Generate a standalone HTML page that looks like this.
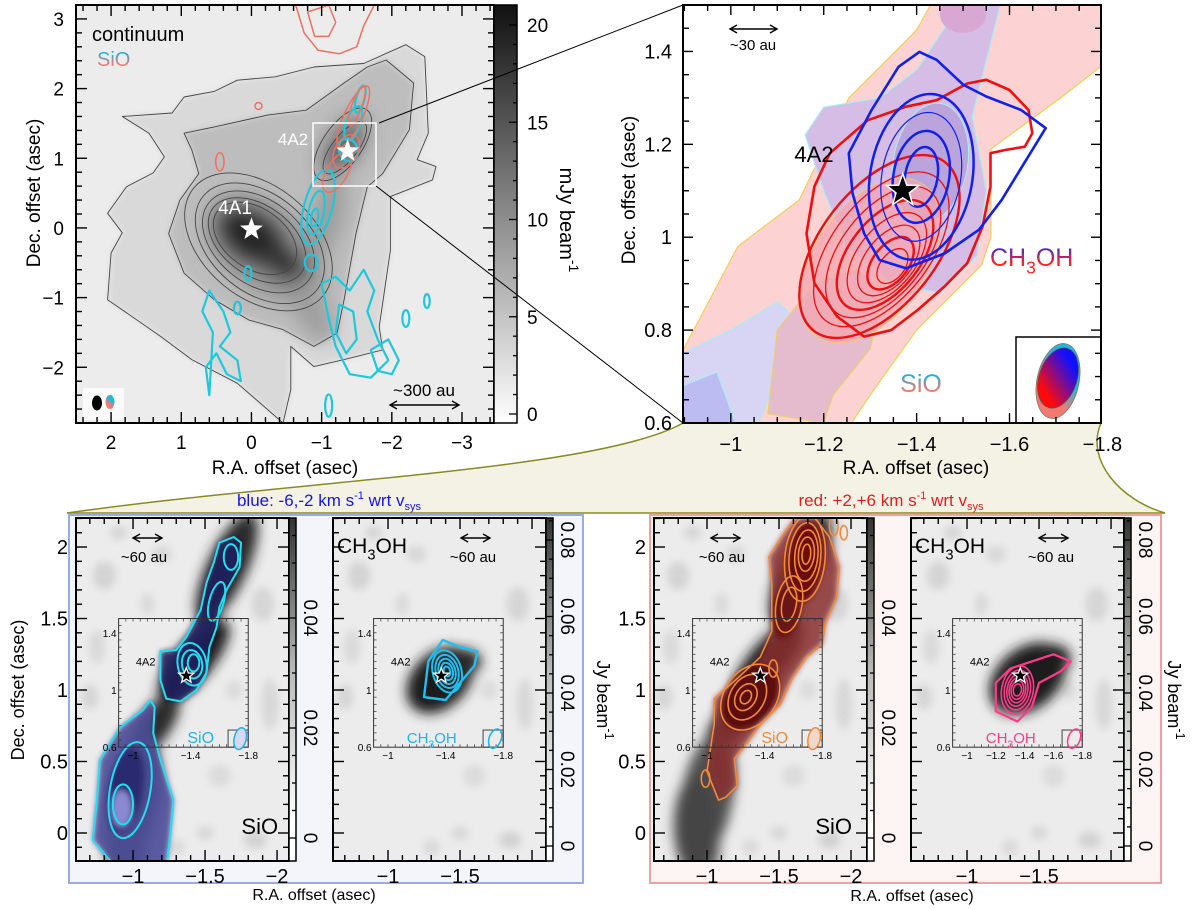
<!DOCTYPE html>
<html><head><meta charset="utf-8"><style>
body{margin:0;background:#fff}
svg{display:block;font-family:"Liberation Sans",sans-serif}
</style></head><body>
<svg id="fig" width="1200" height="909" viewBox="0 0 1200 909" xmlns="http://www.w3.org/2000/svg">
<defs>
<filter id="b10" x="-50%" y="-50%" width="200%" height="200%"><feGaussianBlur stdDeviation="10"/></filter>
<filter id="b6" x="-50%" y="-50%" width="200%" height="200%"><feGaussianBlur stdDeviation="6"/></filter>
<filter id="b4" x="-50%" y="-50%" width="200%" height="200%"><feGaussianBlur stdDeviation="4"/></filter>
<filter id="b3" x="-50%" y="-50%" width="200%" height="200%"><feGaussianBlur stdDeviation="3"/></filter>
<linearGradient id="cbTL" x1="0" y1="1" x2="0" y2="0"><stop offset="0" stop-color="#fff"/><stop offset="0.5" stop-color="#8a8a8a"/><stop offset="1" stop-color="#111"/></linearGradient>
<linearGradient id="cbB" x1="0" y1="1" x2="0" y2="0"><stop offset="0" stop-color="#fff"/><stop offset="0.1" stop-color="#fff"/><stop offset="0.55" stop-color="#bbb"/><stop offset="1" stop-color="#333"/></linearGradient>
<linearGradient id="gBR" x1="0" y1="0" x2="0" y2="1"><stop offset="0" stop-color="#1030ff"/><stop offset="0.55" stop-color="#ff2020"/></linearGradient>
<linearGradient id="gSiO" x1="0" y1="0" x2="0" y2="1"><stop offset="0.2" stop-color="#22b0d8"/><stop offset="0.7" stop-color="#f07a70"/></linearGradient>
<linearGradient id="gBeam" x1="0.7" y1="0.1" x2="0.3" y2="0.9"><stop offset="0.1" stop-color="#1010ff"/><stop offset="0.9" stop-color="#ff0a0a"/></linearGradient>
<linearGradient id="gBeam2" x1="0.7" y1="0.1" x2="0.3" y2="0.9"><stop offset="0.3" stop-color="#20b8e0"/><stop offset="0.7" stop-color="#f07a70"/></linearGradient>
<clipPath id="c-tl"><rect x="76" y="5" width="418" height="418"/></clipPath>
<clipPath id="c-tr"><rect x="683" y="5" width="418" height="418"/></clipPath>
<clipPath id="c-a1"><rect x="76" y="518" width="213" height="343"/></clipPath>
<clipPath id="c-a2"><rect x="333" y="518" width="213" height="343"/></clipPath>
<clipPath id="c-b1"><rect x="654" y="518" width="213" height="343"/></clipPath>
<clipPath id="c-b2"><rect x="911" y="518" width="213" height="343"/></clipPath>
</defs>
<path d="M67,513 C300,480 600,470 683,423 L1101,423 C1085,460 1120,500 1165,513 Z" fill="#f4f2e4"/>
<path d="M67,513 C300,480 600,470 683,423" fill="none" stroke="#8a8a20" stroke-width="1.5"/>
<path d="M1101,423 C1085,460 1120,500 1165,513" fill="none" stroke="#8a8a20" stroke-width="1.5"/>
<line x1="67" y1="513" x2="1165" y2="513" stroke="#8a8a20" stroke-width="1.5"/>
<rect x="69" y="515" width="514" height="368" fill="#f4f4fb" stroke="#9aaae8" stroke-width="2"/>
<rect x="650" y="515" width="511" height="368" fill="#fdf4f4" stroke="#f0a0a0" stroke-width="2"/>
<text x="329" y="506" text-anchor="middle" font-size="17" fill="#1515e8">blue: -6,-2 km s<tspan dy="-7" font-size="11">-1</tspan><tspan dy="7"> wrt v</tspan><tspan dy="4" font-size="11">sys</tspan></text>
<text x="891" y="506" text-anchor="middle" font-size="17" fill="#e81c1c">red: +2,+6 km s<tspan dy="-7" font-size="11">-1</tspan><tspan dy="7"> wrt v</tspan><tspan dy="4" font-size="11">sys</tspan></text>
<g id="root"></g>
</svg>
<script>
// ---------- data arrays ----------
const tlXTicks=[2,1,0,-1,-2,-3];
const tlYTicks=[3,2,1,0,-1,-2];
const tlCbTicks=[0,5,10,15,20];
const trXTicks=[-1,-1.2,-1.4,-1.6,-1.8];
const trYTicks=[1.4,1.2,1,0.8,0.6];
const botXTicksL=[-1,-1.5,-2];
const botXTicksR=[-1,-1.5];
const botYTicks=[2,1.5,1,0.5,0];
const cbSiOTicks=[0,0.02,0.04];
const cbCHTicks=[0,0.02,0.04,0.06,0.08];
const insetYTicks=[1.4,1,0.6];
const insetXTicks=[-1,-1.4,-1.8];
const insetXTicksB2=[-1,-1.2,-1.4,-1.6,-1.8];
// continuum contours (RA,Dec in asec)
const contOuter=[[1.84,1.60],[1.13,1.65],[0.96,1.88],[0.53,1.96],[0.20,2.12],[-0.34,2.17],[-0.89,2.31],[-1.60,2.36],[-2.20,2.63],[-2.47,2.46],[-2.52,1.36],[-2.36,0.98],[-2.63,0.88],[-2.58,0.69],[-1.98,0.45],[-1.98,-0.32],[-1.82,-1.42],[-1.87,-1.75],[-1.32,-1.89],[-0.89,-1.99],[-0.56,-1.70],[-0.56,-2.32],[-0.45,-2.80],[0.20,-2.23],[0.85,-1.89],[1.29,-1.56],[2.05,-1.03],[2.0,-0.36],[1.84,-0.07],[2.05,0.21],[1.78,0.59],[1.40,0.79],[1.24,1.02],[1.46,1.36]];
const contSecond=[[0.96,1.36],[0.53,1.45],[-0.23,1.62],[-0.78,1.69],[-1.32,2.08],[-1.65,2.31],[-1.92,2.41],[-2.31,2.08],[-2.25,1.41],[-1.87,0.78],[-1.65,0.59],[-1.49,-0.08],[-1.32,-1.03],[-1.22,-1.51],[-0.89,-1.70],[-0.45,-1.46],[0.04,-1.32],[0.53,-1.03],[0.96,-0.65],[1.18,-0.08],[1.02,0.40],[0.75,0.78],[0.85,1.12]];
// blobs: ra, dec, rx, ry, rot, gray
const contBlobs=[[-0.2,-0.3,1.0,0.62,40,'#9a9a9a'],[-1.3,1.2,0.5,0.22,-55,'#7a7a7a'],[-1.1,0.2,0.6,0.2,-78,'#9a9a9a'],[-0.8,-1.1,0.6,0.22,60,'#9c9c9c'],[0.0,-0.12,0.58,0.4,35,'#262626'],[-0.45,-0.5,0.38,0.26,30,'#303030'],[-1.35,1.12,0.28,0.1,-50,'#2a2a2a']];
const contRings=[[-0.1,-0.2,1.2,0.8,40],[-0.12,-0.22,1.05,0.7,40],[-0.1,-0.2,0.9,0.6,38],[-0.08,-0.18,0.78,0.5,36],[-0.05,-0.15,0.66,0.43,35],[-1.3,1.2,0.6,0.28,-55],[-1.33,1.15,0.45,0.18,-52]];
const sioCyanTL=[[[-1.0,-0.8],[-1.2,-0.7],[-1.4,-0.9],[-1.6,-0.6],[-1.75,-0.9],[-1.65,-1.2],[-1.8,-1.6],[-1.95,-1.9],[-1.7,-2.15],[-1.4,-2.1],[-1.2,-1.7],[-1.1,-1.3]],[[-1.25,-1.1],[-1.45,-1.2],[-1.5,-1.6],[-1.35,-1.8],[-1.2,-1.5]],[[0.6,-0.9],[0.4,-1.2],[0.3,-1.5],[0.45,-1.7],[0.2,-1.9],[0.15,-2.2],[0.35,-2.1],[0.5,-1.8],[0.65,-2.0],[0.6,-2.4],[0.55,-1.5],[0.7,-1.2]],[[-1.7,-1.75],[-1.95,-1.6],[-2.1,-1.9],[-2.0,-2.1],[-1.8,-2.05]]];
const sioCyanEll=[[-1.38,1.12,0.13,0.17,-20],[-1.45,1.5,0.1,0.26,20],[-1.55,1.85,0.06,0.2,15],[-0.95,0.3,0.2,0.55,15],[-0.92,0.22,0.11,0.32,12],[-0.9,0.15,0.05,0.13,10],[-0.85,-0.5,0.09,0.12,0],[0.2,-1.15,0.05,0.09,0],[-1.1,-2.55,0.05,0.16,0],[0.05,-0.65,0.05,0.1,0],[-2.2,-1.3,0.05,0.12,0],[-2.5,-1.05,0.04,0.1,0]];
const sioRedTL=[[[-0.6,3.3],[-0.75,2.8],[-0.95,2.55],[-1.25,2.5],[-1.5,2.6],[-1.6,2.9],[-1.8,3.3]],[[-0.8,3.1],[-0.9,2.75],[-1.1,2.75],[-1.2,2.95],[-1.1,3.2]]];
const sioRedEll=[[-1.45,1.6,0.13,0.48,25],[-1.5,1.75,0.07,0.3,20],[-1.35,1.1,0.16,0.26,30],[-1.22,0.8,0.15,0.32,30],[0.45,0.95,0.06,0.13,0],[-0.1,1.75,0.05,0.05,0]];
// top-right contour fills
const trPink=[[-0.897,0.6],[-0.897,0.757],[-1.015,0.98],[-1.147,1.08],[-1.254,1.30],[-1.40,1.446],[-1.43,1.5],[-1.8,1.5],[-1.8,1.37],[-1.71,1.30],[-1.56,1.19],[-1.56,1.0],[-1.54,0.94],[-1.40,0.80],[-1.30,0.66],[-1.26,0.6]];
const trLav1=[[-0.897,0.6],[-0.897,0.75],[-1.0,0.8],[-1.1,0.86],[-1.17,0.8],[-1.1,0.7],[-1.06,0.6]];
const trLav2=[[-0.897,0.6],[-0.897,0.68],[-0.97,0.71],[-1.01,0.6]];
const trPurple=[[-1.16,1.22],[-1.2,1.28],[-1.32,1.30],[-1.40,1.36],[-1.46,1.45],[-1.47,1.5],[-1.58,1.5],[-1.55,1.38],[-1.52,1.26],[-1.55,1.1],[-1.53,0.96],[-1.45,0.88],[-1.35,0.9],[-1.25,0.98],[-1.2,1.1]];
const trMauve=[[-1.08,0.62],[-1.1,0.8],[-1.18,0.9],[-1.27,0.93],[-1.33,0.88],[-1.3,0.76],[-1.22,0.66],[-1.2,0.6]];
const trRedOuter=[[-1.287,0.786],[-1.345,0.800],[-1.402,0.843],[-1.460,0.894],[-1.509,0.944],[-1.542,1.023],[-1.559,1.109],[-1.559,1.181],[-1.592,1.188],[-1.633,1.195],[-1.649,1.224],[-1.641,1.274],[-1.600,1.317],[-1.550,1.339],[-1.509,1.331],[-1.443,1.295],[-1.377,1.281],[-1.295,1.252],[-1.213,1.181],[-1.180,1.109],[-1.163,1.008],[-1.180,0.901],[-1.229,0.829]];
const trBlueOuter=[[-1.406,1.399],[-1.443,1.382],[-1.501,1.328],[-1.550,1.303],[-1.625,1.274],[-1.678,1.235],[-1.649,1.188],[-1.583,1.080],[-1.534,1.016],[-1.460,0.965],[-1.377,0.933],[-1.320,0.951],[-1.287,1.008],[-1.262,1.095],[-1.254,1.181],[-1.303,1.274],[-1.361,1.367]];
const trRedRx=[0.125,0.105,0.09,0.076,0.063,0.05,0.038,0.026];
const trRedRy=[0.23,0.195,0.165,0.138,0.113,0.088,0.065,0.043];
const trBlueRx=[0.11,0.085,0.06,0.035];
const trBlueRy=[0.18,0.14,0.1,0.065];
// bottom panels
const bgPatches=[[-0.8,1.8,0.08,0.1,'#d4d4d4'],[-1.2,1.95,0.07,0.06,'#d8d8d8'],[-1.9,1.6,0.08,0.12,'#d6d6d6'],[-0.75,1.3,0.06,0.12,'#dadada'],[-1.95,0.9,0.06,0.18,'#d8d8d8'],[-1.6,0.4,0.08,0.08,'#dcdcdc'],[-1.85,-0.05,0.08,0.06,'#d2d2d2'],[-1.3,-0.1,0.06,0.06,'#dadada'],[-0.7,0.95,0.06,0.09,'#d6d6d6'],[-1.7,1.0,0.06,0.07,'#dcdcdc'],[-0.9,2.1,0.06,0.05,'#d6d6d6'],[-1.1,1.6,0.05,0.08,'#dadada'],[-1.5,0.0,0.06,0.05,'#d8d8d8']];
const sioBand=[[-1.65,1.85,0.14,0.42,25,'#2a2a2a'],[-1.42,1.2,0.13,0.36,40,'#1e1e1e'],[-1.15,0.75,0.11,0.26,35,'#2a2a2a'],[-1.0,0.25,0.18,0.45,10,'#505050'],[-0.95,-0.1,0.14,0.2,0,'#5a5a5a']];
const a1NorthC=[[-1.19,1.27],[-1.30,1.28],[-1.37,1.37],[-1.47,1.56],[-1.51,1.75],[-1.56,1.89],[-1.60,2.03],[-1.70,2.07],[-1.75,2.03],[-1.74,1.86],[-1.65,1.70],[-1.60,1.58],[-1.58,1.44],[-1.53,1.30],[-1.51,1.12],[-1.44,1.00],[-1.33,0.92],[-1.23,0.94],[-1.19,1.07]];
const a1SouthC=[[-1.12,0.93],[-1.15,0.88],[-1.14,0.70],[-1.19,0.51],[-1.28,0.23],[-1.26,0.0],[-1.23,-0.25],[-0.89,-0.25],[-0.72,-0.05],[-0.75,0.23],[-0.77,0.51],[-0.91,0.74],[-1.07,0.86]];
const a1Inner=[[-0.98,0.3,0.14,0.34,10],[-0.93,0.2,0.07,0.14,0],[-1.41,1.18,0.1,0.15,-10],[-1.41,1.18,0.07,0.1,-10],[-1.42,1.19,0.04,0.06,0],[-1.68,1.93,0.05,0.09,0],[-1.58,1.62,0.05,0.14,15]];
const chBlueOuter=[[-1.25,0.95],[-1.28,1.2],[-1.38,1.35],[-1.5,1.3],[-1.62,1.27],[-1.6,1.17],[-1.5,1.05],[-1.4,0.93]];
const chBlueRx=[0.1,0.078,0.058,0.04,0.022];
const chBlueRy=[0.15,0.118,0.09,0.062,0.035];
const b1Outer=[[-1.08,0.23],[-1.0,0.43],[-1.05,0.76],[-1.05,0.94],[-1.21,1.08],[-1.37,1.23],[-1.45,1.41],[-1.45,1.74],[-1.43,1.93],[-1.53,2.09],[-1.61,2.2],[-1.75,2.2],[-1.85,2.07],[-1.92,1.86],[-1.90,1.65],[-1.82,1.46],[-1.80,1.32],[-1.69,1.23],[-1.59,1.08],[-1.51,0.90],[-1.37,0.76],[-1.27,0.62],[-1.19,0.52],[-1.21,0.33],[-1.13,0.25]];
const b1Inner=[[-1.68,1.92,0.14,0.3,5],[-1.68,1.93,0.11,0.24,5],[-1.69,1.94,0.08,0.18,5],[-1.69,1.95,0.055,0.12,5],[-1.69,1.95,0.03,0.07,5],[-1.57,1.6,0.09,0.2,10],[-1.57,1.6,0.05,0.12,10],[-1.3,0.95,0.18,0.25,35],[-1.28,0.95,0.12,0.17,30],[-1.27,0.95,0.07,0.1,30],[-1.27,0.95,0.035,0.05,30],[-0.99,0.38,0.03,0.06,0],[-1.46,1.15,0.03,0.06,0],[-1.88,2.15,0.03,0.07,0]];
const chRedOuter=[[-1.2,0.85],[-1.2,1.05],[-1.3,1.15],[-1.45,1.2],[-1.6,1.25],[-1.72,1.2],[-1.65,1.13],[-1.5,1.05],[-1.45,0.88],[-1.35,0.78]];
const chRedRx=[0.11,0.09,0.072,0.057,0.043,0.028];
const chRedRy=[0.17,0.14,0.114,0.09,0.066,0.042];

// ---------- helpers ----------
const NS='http://www.w3.org/2000/svg';
const root=document.getElementById('root');
function mk(tag,attrs,parent){const e=document.createElementNS(NS,tag);for(const k in attrs)e.setAttribute(k,attrs[k]);(parent||root).appendChild(e);return e;}
function panel(x0,x1,y0,y1,ra0,ra1,d0,d1,clip){
  const p={x0,x1,y0,y1};
  p.X=ra=>x0+(ra-ra0)/(ra1-ra0)*(x1-x0);
  p.Y=d=>y0+(d-d0)/(d1-d0)*(y1-y0);
  p.sx=Math.abs((x1-x0)/(ra1-ra0));p.sy=Math.abs((y1-y0)/(d1-d0));
  p.g=mk('g',{'clip-path':'url(#'+clip+')'});
  
  
  return p;
}
function ell(p,ra,dec,rx,ry,rot,attrs,parent){
  const cx=p.X(ra),cy=p.Y(dec);
  return mk('ellipse',Object.assign({cx:cx,cy:cy,rx:rx*p.sx,ry:ry*p.sy,transform:'rotate('+rot+' '+cx+' '+cy+')'},attrs),parent||p.g);
}
function poly(p,pts,attrs,parent){
  const d='M'+pts.map(q=>p.X(q[0]).toFixed(1)+','+p.Y(q[1]).toFixed(1)).join('L')+'Z';
  return mk('path',Object.assign({d:d,'stroke-linejoin':'round'},attrs),parent||p.g);
}
function starPath(cx,cy,R,r){let d='';for(let i=0;i<10;i++){const a=-Math.PI/2+i*Math.PI/5;const rr=i%2?r:R;d+=(i?'L':'M')+(cx+rr*Math.cos(a)).toFixed(1)+','+(cy+rr*Math.sin(a)).toFixed(1);}return d+'Z';}
function frame(p,name){
  const r=mk('rect',{x:p.x0,y:p.y0,width:p.x1-p.x0,height:p.y1-p.y0,fill:'none',stroke:'#000','stroke-width':2});
  
  
}
function ticks(p,name,xs,ys,xmin,xmax,xstep,ymin,ymax,ystep,L,l,col,w){
  const g=mk('g',{stroke:col||'#000','stroke-width':w||1.4});
  
  
  const n1=Math.round((xmax-xmin)/xstep);
  for(let i=0;i<=n1;i++){const v=xmin+i*xstep;const maj=xs.some(t=>Math.abs(t-v)<1e-6);const len=maj?L:l;const x=p.X(v);if(x<p.x0-0.5||x>p.x1+0.5)continue;
    mk('line',{x1:x,y1:p.y1,x2:x,y2:p.y1-len},g);mk('line',{x1:x,y1:p.y0,x2:x,y2:p.y0+len},g);}
  const n2=Math.round((ymax-ymin)/ystep);
  for(let i=0;i<=n2;i++){const v=ymin+i*ystep;const maj=ys.some(t=>Math.abs(t-v)<1e-6);const len=maj?L:l;const y=p.Y(v);if(y<p.y0-0.5||y>p.y1+0.5)continue;
    mk('line',{x1:p.x0,y1:y,x2:p.x0+len,y2:y},g);mk('line',{x1:p.x1,y1:y,x2:p.x1-len,y2:y},g);}
}
function fmt(v){return (v<0?'\u2212':'')+String(Math.abs(v));}
function xlabels(p,name,arr,y,fs){
  arr.forEach(v=>{const t=mk('text',{x:p.X(v),y:y,'text-anchor':'middle','font-size':fs});t.textContent=fmt(v);
    
    });
}
function ylabels(p,name,arr,x,fs,dy){
  arr.forEach(v=>{const t=mk('text',{x:x,y:p.Y(v)+(dy||6),'text-anchor':'end','font-size':fs});t.textContent=fmt(v);
    
    });
}
function label(txt,x,y,fs,rot,name,extra){
  const t=mk('text',Object.assign({x:x,y:y,'font-size':fs,'text-anchor':'middle'},extra||{}));
  if(rot)t.setAttribute('transform','rotate('+rot+' '+x+' '+y+')');
  t.textContent=txt;
  
  
  return t;
}
function subLabel(a,sub,b,x,y,fs,name,extra){
  const t=mk('text',Object.assign({x:x,y:y,'font-size':fs},extra||{}));
  const s1=mk('tspan',{},t);s1.textContent=a;
  const s2=mk('tspan',{dy:fs*0.3,'font-size':fs*0.7},t);s2.textContent=sub;
  const s3=mk('tspan',{dy:-fs*0.3},t);s3.textContent=b;
  
  
  return t;
}
function rotSupLabel(txt,x,y,fs,name){
  const t=mk('text',{x:x,y:y,'font-size':fs,'text-anchor':'middle',transform:'rotate(90 '+x+' '+y+')'});
  const a=mk('tspan',{},t);a.textContent=txt;
  const b=mk('tspan',{dy:-fs*0.45,'font-size':fs*0.7},t);b.textContent='-1';
  
  
}
function colorbar(x0,x1,y0,y1,v0y,vs,ticksArr,grad,name,lx,fs,step){
  const r=mk('rect',{x:x0,y:y0,width:x1-x0,height:y1-y0,fill:'url(#'+grad+')',stroke:'#000','stroke-width':1.5});
  
  
  const Yc=v=>v0y-v*vs;
  const g=mk('g',{stroke:'#000','stroke-width':1.3});
  
  
  const vmax=(v0y-y0)/vs;
  for(let i=0;i*step<=vmax;i++){const v=i*step;const maj=ticksArr.some(t=>Math.abs(t-v)<1e-9);mk('line',{x1:x1,y1:Yc(v),x2:x1-(maj?8:4),y2:Yc(v)},g);}
  ticksArr.forEach(v=>{
    let t;
    if(lx.rot){t=mk('text',{x:lx.x,y:Yc(v),'font-size':fs,'text-anchor':'middle',transform:'rotate(90 '+lx.x+' '+Yc(v)+')'});}
    else{t=mk('text',{x:lx.x,y:Yc(v)+7,'font-size':fs,'text-anchor':'start'});}
    t.textContent=String(v);
    
    
  });
}
function arrow(x1,x2,y,name){
  const g=mk('g',{stroke:'#000','stroke-width':1.4,fill:'none'});
  
  
  mk('line',{x1:x1,y1:y,x2:x2,y2:y},g);
  mk('path',{d:`M${x1+7},${y-4}L${x1},${y}L${x1+7},${y+4}M${x2-7},${y-4}L${x2},${y}L${x2-7},${y+4}`},g);
}
function bottomBg(p){
  mk('rect',{x:p.x0,y:p.y0,width:p.x1-p.x0,height:p.y1-p.y0,fill:'#ececec'},p.g);
  const bl=mk('g',{filter:'url(#b4)'},p.g);
  bgPatches.forEach(b=>{ell(p,b[0],b[1],b[2],b[3],0,{fill:b[4]},bl);});
}
function inset(p,name,xt){
  const g=mk('g',{});
  
  
  const x0=p.X(-0.9),x1=p.X(-1.8),y0=p.Y(1.5),y1=p.Y(0.6);
  mk('rect',{x:x0,y:y0,width:x1-x0,height:y1-y0,fill:'none',stroke:'#333','stroke-width':1},g);
  for(let v=0.65;v<1.5;v+=0.05){const y=p.Y(v);mk('line',{x1:x0,y1:y,x2:x0+3,y2:y,stroke:'#333','stroke-width':0.7},g);mk('line',{x1:x1,y1:y,x2:x1-3,y2:y,stroke:'#333','stroke-width':0.7},g);}
  for(let v=-0.95;v>-1.8;v-=0.05){const x=p.X(v);mk('line',{x1:x,y1:y1,x2:x,y2:y1-3,stroke:'#333','stroke-width':0.7},g);mk('line',{x1:x,y1:y0,x2:x,y2:y0+3,stroke:'#333','stroke-width':0.7},g);}
  insetYTicks.forEach(v=>{const t=mk('text',{x:x0-2,y:p.Y(v)+4,'font-size':10,'text-anchor':'end'},g);t.textContent=String(v);
    
    });
  xt.forEach(v=>{const t=mk('text',{x:p.X(v),y:y1+12,'font-size':10,'text-anchor':'middle'},g);t.textContent=fmt(v);
    
    });
  const lb=mk('text',{x:p.X(-1.02),y:p.Y(1.2)+4,'font-size':11},g);lb.textContent='4A2';
  
  
  const bx=p.X(-1.66),by=p.Y(0.72);
  const br=mk('rect',{x:bx,y:by,width:x1-bx,height:y1-by,fill:'none',stroke:'#444','stroke-width':1},g);
  
  
  return {g,bx:(bx+x1)/2,by:(by+y1)/2};
}
function smallStar(p,name){
  const s=mk('path',{d:starPath(p.X(-1.37),p.Y(1.10),8,3.4),fill:'#000',stroke:'#fff','stroke-width':1.3});
  
  
}

// ---------- TOP-LEFT ----------
const TL=panel(76,494,5,423,2.5,-3.456,3.2,-2.8,'c-tl');
mk('rect',{x:76,y:5,width:418,height:418,fill:'#ececec'},TL.g);
const tlImg=mk('g',{filter:'url(#b3)'},TL.g);


poly(TL,contOuter,{fill:'#d9d9d9'},tlImg);
poly(TL,contSecond,{fill:'#bdbdbd'},tlImg);
const tlBlur=mk('g',{filter:'url(#b10)'},TL.g);
contBlobs.forEach(b=>{ell(TL,b[0],b[1],b[2],b[3],b[4],{fill:b[5]},tlBlur);});
const tlCont=mk('g',{fill:'none',stroke:'#444','stroke-width':0.9},TL.g);


poly(TL,contOuter,{},tlCont);
poly(TL,contSecond,{},tlCont);
contRings.forEach(c=>{ell(TL,c[0],c[1],c[2],c[3],c[4],{},tlCont);});
const tlCy=mk('g',{fill:'none',stroke:'#1ec8dc','stroke-width':2.2},TL.g);


sioCyanTL.forEach(pt=>poly(TL,pt,{},tlCy));
sioCyanEll.forEach(c=>ell(TL,c[0],c[1],c[2],c[3],c[4],{},tlCy));
const tlRd=mk('g',{fill:'none',stroke:'#f07060','stroke-width':1.5},TL.g);


sioRedTL.forEach(pt=>poly(TL,pt,{},tlRd));
sioRedEll.forEach(c=>ell(TL,c[0],c[1],c[2],c[3],c[4],{},tlRd));
const zbox=mk('rect',{x:313,y:123,width:63,height:63,fill:'none',stroke:'#fff','stroke-width':1.5});


const s1=mk('path',{d:starPath(TL.X(0.0),TL.Y(-0.02),12,5),fill:'#fff'});


const s2=mk('path',{d:starPath(TL.X(-1.37),TL.Y(1.1),12,5),fill:'#fff'});


label('4A1',235,214,19,0,'label-4a1',{fill:'#fff'});
label('4A2',293,145,17,0,'label-4a2',{fill:'#fff'});
label('continuum',92,41,20,0,'legend-continuum',{'text-anchor':'start'});
label('SiO',97,66,20,0,'legend-sio',{'text-anchor':'start',fill:'url(#gSiO)'});
const bb=mk('rect',{x:83,y:388,width:41,height:32,fill:'#fafafa'});


const be1=mk('ellipse',{cx:97,cy:403,rx:5,ry:7.5,fill:'#000'});


const be2=mk('ellipse',{cx:110,cy:402,rx:4.5,ry:7,fill:'url(#gBeam2)'});


arrow(390,459,405,'scale-bar-300au');
label('~300 au',424,396,17,0,'scale-label-300au');
frame(TL,'tl');
ticks(TL,'tl',tlXTicks,tlYTicks,-3.4,2.4,0.2,-2.8,3.2,0.2,11,6);
xlabels(TL,'tl',tlXTicks,449,19);
ylabels(TL,'tl',tlYTicks,64,19,7);
label('R.A. offset (asec)',285,474,19,0,'tl-x-axis-title');
label('Dec. offset (asec)',40,193,19,-90,'tl-y-axis-title');
colorbar(494,517,5,423,414,19.45,tlCbTicks,'cbTL','tl-colorbar',{x:527},19,1);
rotSupLabel('mJy beam',560,220,20,'tl-colorbar-title');
const zl1=mk('line',{x1:379,y1:123,x2:683,y2:5,stroke:'#000','stroke-width':1});


const zl2=mk('line',{x1:376,y1:186,x2:683,y2:423,stroke:'#000','stroke-width':1});



// ---------- TOP-RIGHT ----------
const TR=panel(683,1101,5,423,-0.897,-1.797,1.5,0.6,'c-tr');
mk('rect',{x:683,y:5,width:418,height:418,fill:'#fff'},TR.g);
const trF=mk('g',{},TR.g);


poly(TR,trPink,{fill:'#fcd2d2',stroke:'#f5cf50','stroke-width':1.2},trF);
poly(TR,trLav1,{fill:'#d8d4f4',stroke:'#a8eef0','stroke-width':1.2},trF);
poly(TR,trLav2,{fill:'#bcbcf2',stroke:'#a8eef0','stroke-width':1.2},trF);
poly(TR,trMauve,{fill:'#e4bccd',stroke:'#e8cf70','stroke-width':1.2},trF);
poly(TR,trPurple,{fill:'#d6bde6',stroke:'#a8eef0','stroke-width':1.2},trF);
ell(TR,-1.43,1.16,0.08,0.13,10,{fill:'#bba4dc',stroke:'#a8eef0','stroke-width':1},trF);
ell(TR,-1.5,1.48,0.05,0.04,0,{fill:'#d8a8d2'},trF);
ell(TR,-1.3,0.95,0.12,0.2,35,{fill:'#f5a6b0',opacity:0.75,stroke:'#f5d060','stroke-width':1},trF);
const trR=mk('g',{fill:'none',stroke:'#ee1010'},TR.g);


poly(TR,trRedOuter,{'stroke-width':2.6},trR);
trRedRx.forEach((rx,i)=>{ell(TR,-1.32-0.004*i,0.98-0.006*i,rx,trRedRy[i],38,{'stroke-width':i%3==0?2.4:1.3},trR);});
const trB=mk('g',{fill:'none',stroke:'#1020ee'},TR.g);


poly(TR,trBlueOuter,{'stroke-width':2.6},trB);
trBlueRx.forEach((rx,i)=>{ell(TR,-1.41,1.13,rx,trBlueRy[i],10,{'stroke-width':i==1?1.2:2.5},trB);});
const ts=mk('path',{d:starPath(TR.X(-1.37),TR.Y(1.10),17,7),fill:'#000',stroke:'#fff','stroke-width':1.5});


label('4A2',814,162,22,0,'tr-label-4a2');
subLabel('CH','3','OH',990,266,25,'tr-label-ch3oh',{fill:'url(#gBR)'});
label('SiO',921,392,25,0,'tr-label-sio',{fill:'url(#gSiO)'});
arrow(730,777,29,'scale-bar-30au');
label('~30 au',753,50,15,0,'scale-label-30au');
const tb=mk('rect',{x:1016,y:337,width:85,height:86,fill:'#fff',stroke:'#000','stroke-width':1.5});


const tb1=mk('ellipse',{cx:1058,cy:381,rx:21,ry:38,fill:'url(#gBeam2)',stroke:'#777','stroke-width':0.8,transform:'rotate(12 1058 381)'});


const tb2=mk('ellipse',{cx:1058,cy:378,rx:19,ry:31,fill:'url(#gBeam)',stroke:'#555','stroke-width':0.8,transform:'rotate(18 1058 378)'});


frame(TR,'tr');
ticks(TR,'tr',trXTicks,trYTicks,-1.8,-0.9,0.05,0.6,1.5,0.05,10,6);
xlabels(TR,'tr',trXTicks,451,20);
ylabels(TR,'tr',trYTicks,672,20,7);
label('R.A. offset (asec)',916,474,19,0,'tr-x-axis-title');
label('Dec. offset (asec)',635,190,19,-90,'tr-y-axis-title');

// ---------- BOTTOM ----------
function bottomPanel(x0,ra0,clip){return panel(x0,x0+213,518,861,ra0,ra0-1.479,2.203,-0.196,clip);}
const A1=bottomPanel(76,-0.604,'c-a1'), A2=bottomPanel(333,-0.618,'c-a2'), B1=bottomPanel(654,-0.632,'c-b1'), B2=bottomPanel(911,-0.611,'c-b2');
[A1,A2,B1,B2].forEach(bottomBg);
// A1
{const bl=mk('g',{filter:'url(#b6)'},A1.g);sioBand.forEach(b=>ell(A1,b[0],b[1],b[2],b[3],b[4],{fill:b[5]},bl));
 const f=mk('g',{filter:'url(#b3)'},A1.g);
 poly(A1,a1NorthC,{fill:'#20205e',opacity:0.9},f);poly(A1,a1SouthC,{fill:'#4a4a98',opacity:0.9},f);
 ell(A1,-0.95,0.3,0.12,0.3,10,{fill:'#2a2a70'},f);ell(A1,-0.92,0.17,0.07,0.13,0,{fill:'#8a8ad2'},f);
 const c=mk('g',{fill:'none',stroke:'#1ee0f0','stroke-width':2},A1.g);
 
 
 poly(A1,a1NorthC,{},c);poly(A1,a1SouthC,{},c);a1Inner.forEach(e=>ell(A1,e[0],e[1],e[2],e[3],e[4],{},c));
 const ins=inset(A1,'a1',insetXTicks);
 const be=mk('ellipse',{cx:ins.bx+2,cy:ins.by,rx:6,ry:11,fill:'#d8d8f4',stroke:'#1eb0f0','stroke-width':1.5,transform:`rotate(12 ${ins.bx+2} ${ins.by})`});
 
 
 label('SiO',A1.X(-1.47),A1.Y(0.67)+6,16,0,'a1-inset-species',{fill:'#1eb4f0'});
 smallStar(A1,'a1');
 label('SiO',A1.X(-1.88),A1.Y(0.05)+8,22,0,'a1-species-label');}
// A2
{const bl=mk('g',{filter:'url(#b6)'},A2.g);ell(A2,-1.36,1.07,0.19,0.27,45,{fill:'#1c1c1c'},bl);ell(A2,-1.52,1.2,0.13,0.09,0,{fill:'#262626'},bl);
 const c=mk('g',{fill:'none',stroke:'#1ec0f0','stroke-width':2},A2.g);
 
 
 poly(A2,chBlueOuter,{'stroke-width':2.4},c);chBlueRx.forEach((rx,i)=>ell(A2,-1.41,1.13,rx,chBlueRy[i],-15,{},c));
 const ins=inset(A2,'a2',insetXTicks);
 const be=mk('ellipse',{cx:ins.bx+2,cy:ins.by,rx:6,ry:10,fill:'none',stroke:'#1eb0f0','stroke-width':1.5,transform:`rotate(20 ${ins.bx+2} ${ins.by})`});
 
 
 subLabel('CH','3','OH',A2.X(-1.13),A2.Y(0.67)+6,15,'a2-inset-species',{fill:'#1eb4f0'});
 smallStar(A2,'a2');}
// B1
{const bl=mk('g',{filter:'url(#b6)'},B1.g);sioBand.forEach(b=>ell(B1,b[0],b[1],b[2],b[3],b[4],{fill:b[5]},bl));
 ell(B1,-0.92,0.05,0.15,0.35,0,{fill:'#444'},bl);
 const f=mk('g',{filter:'url(#b3)'},B1.g);
 poly(B1,b1Outer,{fill:'#8a3030',opacity:0.85},f);
 ell(B1,-1.68,1.9,0.12,0.28,5,{fill:'#6a0f0f'},f);ell(B1,-1.3,0.95,0.17,0.25,35,{fill:'#5c0c0c'},f);ell(B1,-1.55,1.55,0.1,0.2,10,{fill:'#6a1212'},f);
 const c=mk('g',{fill:'none',stroke:'#f28a38','stroke-width':1.6},B1.g);
 
 
 poly(B1,b1Outer,{},c);b1Inner.forEach(e=>ell(B1,e[0],e[1],e[2],e[3],e[4],{},c));
 ell(B1,-1.95,2.1,0.025,0.05,0,{},c);
 const ins=inset(B1,'b1',insetXTicks);
 const be=mk('ellipse',{cx:ins.bx+2,cy:ins.by,rx:6,ry:11,fill:'#f2d8cc',stroke:'#f28a38','stroke-width':1.5,transform:`rotate(12 ${ins.bx+2} ${ins.by})`});
 
 
 label('SiO',B1.X(-1.47),B1.Y(0.67)+6,16,0,'b1-inset-species',{fill:'#f28a38'});
 smallStar(B1,'b1');
 label('SiO',B1.X(-1.88),B1.Y(0.05)+8,22,0,'b1-species-label');}
// B2
{const bl=mk('g',{filter:'url(#b6)'},B2.g);ell(B2,-1.42,1.08,0.21,0.3,50,{fill:'#1a1a1a'},bl);ell(B2,-1.6,1.22,0.12,0.1,0,{fill:'#1e1e1e'},bl);
 const c=mk('g',{fill:'none',stroke:'#ff3a8a','stroke-width':1.6},B2.g);
 
 
 poly(B2,chRedOuter,{'stroke-width':2.2},c);chRedRx.forEach((rx,i)=>ell(B2,-1.35,1.0,rx,chRedRy[i],10,{},c));
 const ins=inset(B2,'b2',insetXTicksB2);
 const be=mk('ellipse',{cx:ins.bx+2,cy:ins.by,rx:6,ry:10,fill:'none',stroke:'#ff3a8a','stroke-width':1.5,transform:`rotate(20 ${ins.bx+2} ${ins.by})`});
 
 
 subLabel('CH','3','OH',B2.X(-1.13),B2.Y(0.67)+6,15,'b2-inset-species',{fill:'#ff3a8a'});
 smallStar(B2,'b2');}
// frames, ticks, labels
[[A1,'a1',botXTicksL,true],[A2,'a2',botXTicksR,false],[B1,'b1',botXTicksL,true],[B2,'b2',botXTicksR,false]].forEach(q=>{
  const p=q[0],n=q[1];
  frame(p,n);
  ticks(p,n,[-1,-1.5,-2],botYTicks,-2.0,-0.7,0.1,-0.1,2.2,0.1,11,6);
  xlabels(p,n,q[2],p.y1+22,20);
  if(q[3]) ylabels(p,n,botYTicks,p.x0-8,20,7);
  arrow(p.x0+(q[3]?57:128),p.x0+(q[3]?86:157),538,n+'-scale-bar-60au');
  label('~60 au',p.x0+(q[3]?68:140),562,15,0,n+'-scale-label-60au');
  if(!q[3]) subLabel('CH','3','OH',p.x0+4,553,21,n+'-species-label');
});
colorbar(289,296,518,861,838,5500,cbSiOTicks,'cbB','a1-colorbar',{x:304,rot:true},19,0.005);
colorbar(546,553,518,861,846,3825,cbCHTicks,'cbB','a2-colorbar',{x:561,rot:true},19,0.005);
colorbar(867,874,518,861,838,5500,cbSiOTicks,'cbB','b1-colorbar',{x:882,rot:true},19,0.005);
colorbar(1124,1131,518,861,846,3825,cbCHTicks,'cbB','b2-colorbar',{x:1139,rot:true},19,0.005);
rotSupLabel('Jy beam',597,700,18,'a-colorbar-title');
rotSupLabel('Jy beam',1168,700,18,'b-colorbar-title');
label('Dec. offset (asec)',24,690,18,-90,'a1-y-axis-title');
label('R.A. offset (asec)',314,900,16,0,'a-x-axis-title');
label('R.A. offset (asec)',912,901,16,0,'b-x-axis-title');
</script>
</body></html>
